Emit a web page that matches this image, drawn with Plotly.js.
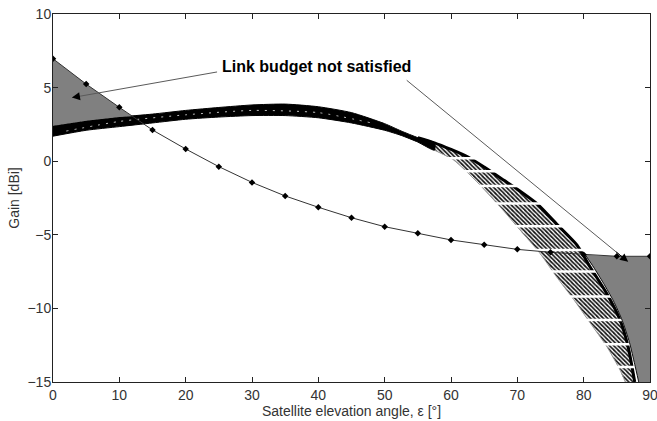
<!DOCTYPE html>
<html>
<head>
<meta charset="utf-8">
<script src="https://cdn.plot.ly/plotly-3.0.1.min.js"></script>
<style>html,body{margin:0;padding:0;background:#fff;}#chart{width:657px;height:421px;}</style>
</head>
<body>
<div id="chart"></div>
<script>
// Required gain (link budget) curve
const reqX = [0, 5, 10, 15, 20, 25, 30, 35, 40, 45, 50, 55, 60, 65, 70, 75, 80, 85, 90];
const reqY = [6.96, 5.24, 3.66, 2.12, 0.83, -0.37, -1.44, -2.36, -3.13, -3.84, -4.45, -4.9, -5.35, -5.67, -5.99, -6.19, -6.35, -6.46, -6.46];

// Antenna gain family: upper/right envelope
const bandUpX = [0, 5, 10, 15, 20, 25, 30, 35, 40, 45, 50, 52.5, 55, 57.5, 60, 62.5, 65, 68, 70, 73, 76, 79, 81, 83.5, 85.5, 86.7, 87.7];
const bandUpY = [2.4, 2.75, 3.0, 3.2, 3.45, 3.65, 3.82, 3.88, 3.7, 3.3, 2.55, 2.05, 1.6, 1.25, 0.8, 0.3, -0.4, -1.3, -1.9, -2.9, -4.3, -5.7, -7.2, -9.0, -10.8, -12.6, -15];
// Antenna gain family: lower/left envelope
const bandLoX = [0, 5, 10, 15, 20, 25, 30, 35, 40, 45, 50, 52.5, 55, 57.5, 60.4, 63.9, 67.4, 70.4, 73.4, 75.9, 78.5, 81, 83.5, 85.5, 86.3];
const bandLoY = [1.7, 2.1, 2.35, 2.6, 2.85, 3.0, 3.1, 3.1, 2.95, 2.6, 2.1, 1.75, 1.3, 0.75, 0.08, -1.4, -3.1, -4.67, -6.25, -7.85, -9.4, -11, -12.6, -14.2, -15];
// White speckle trace inside the dense part of the band
const speckX = [2, 10, 20, 30, 40, 48];
const speckY = [2.05, 2.7, 3.15, 3.45, 3.3, 2.6];
// Levels of the white gaps across the hatched part
const gapY = [0.2, -0.69, -1.68, -2.88, -4.42, -6.03, -7.5, -9.2, -10.79, -12.44, -13.98];
// Left boundary of the right "not satisfied" region
const grayEdgeX = [80.3, 81.5, 83.0, 84.5, 85.8, 86.9, 87.7, 88.3];
const grayEdgeY = [-6.4, -7.2, -8.3, -9.5, -10.8, -12.3, -13.8, -15];
// Crossing of required curve and antenna envelope on the left
const leftCross = [11.9, 3.06];

const solidLimit = 57.5, hatchStart = 55;
const sel = (xs, ys, f) => { const ox = [], oy = []; xs.forEach((v, i) => { if (f(v)) { ox.push(v); oy.push(ys[i]); } }); return [ox, oy]; };
const skip = {hoverinfo: 'skip', showlegend: false};

const traces = [];

// hatched part of band
const [hux, huy] = sel(bandUpX, bandUpY, v => v >= hatchStart);
const [hlx, hly] = sel(bandLoX, bandLoY, v => v >= hatchStart);
traces.push(Object.assign({
  x: hux.concat(hlx.slice().reverse()), y: huy.concat(hly.slice().reverse()),
  mode: 'lines', fill: 'toself', line: {width: 0, color: 'rgba(0,0,0,0)', shape: 'spline', smoothing: 0.6},
  fillcolor: '#ffffff',
  fillpattern: {shape: '\\', fgcolor: '#111111', bgcolor: '#ffffff', size: 3, solidity: 0.55}
}, skip));
// light left edge of hatched part
traces.push(Object.assign({x: hlx, y: hly, mode: 'lines', line: {color: '#999', width: 1, shape: 'spline', smoothing: 0.6}}, skip));
// right dark edge of hatched part
traces.push(Object.assign({x: hux, y: huy, mode: 'lines', line: {color: '#000', width: 3, shape: 'spline', smoothing: 0.6}}, skip));
// solid part of band
const [sux, suy] = sel(bandUpX, bandUpY, v => v <= solidLimit);
const [slx, sly] = sel(bandLoX, bandLoY, v => v <= solidLimit);
traces.push(Object.assign({
  x: sux.concat(slx.slice().reverse()), y: suy.concat(sly.slice().reverse()),
  mode: 'lines', fill: 'toself', fillcolor: '#000000', line: {width: 1, color: '#000', shape: 'spline', smoothing: 0.6}
}, skip));
traces.push(Object.assign({x: speckX, y: speckY, mode: 'lines',
  line: {color: 'rgba(255,255,255,0.75)', width: 1, dash: '2px,6px', shape: 'spline', smoothing: 0.6}}, skip));
// white gaps
const gx = [], gy = [];
gapY.forEach(v => { gx.push(hatchStart, 90, null); gy.push(v, v, null); });
traces.push(Object.assign({x: gx, y: gy, mode: 'lines', line: {color: '#ffffff', width: 2.5}}, skip));

// left gray region
const [lrx, lry] = sel(reqX, reqY, v => v < leftCross[0]);
const [lux, luy] = sel(bandUpX, bandUpY, v => v < leftCross[0]);
traces.push(Object.assign({
  x: lrx.concat([leftCross[0]], lux.slice().reverse()), y: lry.concat([leftCross[1]], luy.slice().reverse()),
  mode: 'lines', fill: 'toself', fillcolor: '#808080', line: {width: 0, color: 'rgba(0,0,0,0)'}
}, skip));
// right gray region
const [rrx, rry] = sel(reqX, reqY, v => v >= grayEdgeX[0] - 0.5);
traces.push(Object.assign({
  x: rrx.concat([90], grayEdgeX.slice().reverse()), y: rry.concat([-15], grayEdgeY.slice().reverse()),
  mode: 'lines', fill: 'toself', fillcolor: '#808080', line: {width: 0, color: 'rgba(0,0,0,0)'}
}, skip));
traces.push(Object.assign({x: grayEdgeX, y: grayEdgeY, mode: 'lines', line: {color: '#111', width: 1, shape: 'spline', smoothing: 0.6}}, skip));

// required curve
traces.push(Object.assign({
  x: reqX, y: reqY, mode: 'lines+markers',
  line: {color: '#333', width: 1},
  marker: {symbol: 'diamond', size: 5, color: '#000'}
}, skip));

const font = {family: 'Liberation Sans, Arial, sans-serif', size: 14, color: '#333'};
const axisCommon = {
  showline: true, linecolor: '#222', linewidth: 1, mirror: 'ticks',
  ticks: 'inside', ticklen: 5, tickcolor: '#222', showgrid: false, zeroline: false,
  tickfont: font, ticklabeloverflow: 'allow'
};

// arrows: [headX, headY, tailX, tailY]
const arrows = [[2.86, 4.32, 24.96, 6.08], [86.7, -6.83, 53.1, 5.58]];
const annotations = [
  {x: 39.75, y: 6.4, xref: 'x', yref: 'y', text: '<b>Link budget not satisfied</b>', showarrow: false,
   font: {family: 'Liberation Sans, Arial, sans-serif', size: 16, color: '#000'}}
];
arrows.forEach(a => {
  annotations.push({x: a[0], y: a[1], ax: a[2], ay: a[3], xref: 'x', yref: 'y', axref: 'x', ayref: 'y', text: '',
    showarrow: true, arrowhead: 0, arrowwidth: 1, arrowcolor: '#5a5a5a', standoff: 0});
  const f = 0.06;
  annotations.push({x: a[0], y: a[1], ax: a[0] + (a[2] - a[0]) * f, ay: a[1] + (a[3] - a[1]) * f,
    xref: 'x', yref: 'y', axref: 'x', ayref: 'y', text: '',
    showarrow: true, arrowhead: 2, arrowsize: 1.6, arrowwidth: 1, arrowcolor: '#000', standoff: 0});
});

const layout = {
  width: 657, height: 421,
  margin: {l: 53, r: 7, t: 14, b: 39},
  paper_bgcolor: '#fff', plot_bgcolor: '#fff',
  showlegend: false,
  xaxis: Object.assign({}, axisCommon, {
    range: [0, 90], tickvals: [0, 10, 20, 30, 40, 50, 60, 70, 80, 90],
    title: {text: 'Satellite elevation angle, ε [°]', font: font, standoff: 0}
  }),
  yaxis: Object.assign({}, axisCommon, {
    range: [-15, 10], tickvals: [-15, -10, -5, 0, 5, 10], ticklabelstandoff: -2,
    title: {text: 'Gain [dBi]', font: font, standoff: 4}
  }),
  annotations: annotations
};

Plotly.newPlot('chart', traces, layout, {staticPlot: true, displayModeBar: false});
</script>
</body>
</html>
